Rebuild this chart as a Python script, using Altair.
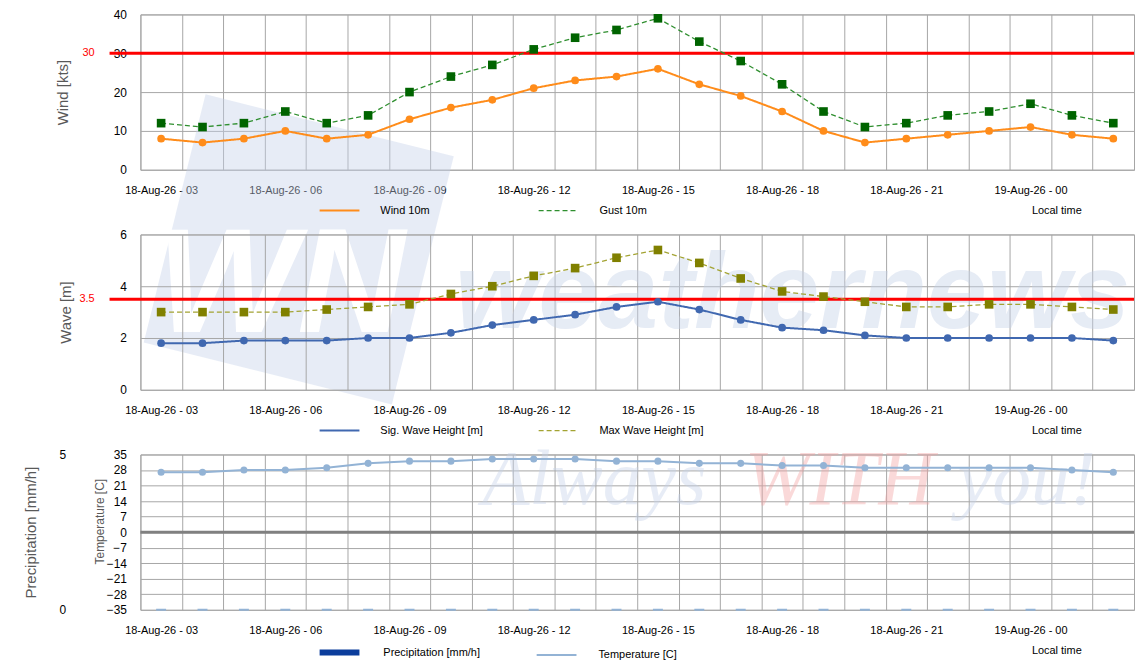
import json
import altair as alt
import pandas as pd

# ---------------- data ----------------
times = [
    "18-Aug-26 - 03", "18-Aug-26 - 04", "18-Aug-26 - 05", "18-Aug-26 - 06",
    "18-Aug-26 - 07", "18-Aug-26 - 08", "18-Aug-26 - 09", "18-Aug-26 - 10",
    "18-Aug-26 - 11", "18-Aug-26 - 12", "18-Aug-26 - 13", "18-Aug-26 - 14",
    "18-Aug-26 - 15", "18-Aug-26 - 16", "18-Aug-26 - 17", "18-Aug-26 - 18",
    "18-Aug-26 - 19", "18-Aug-26 - 20", "18-Aug-26 - 21", "18-Aug-26 - 22",
    "18-Aug-26 - 23", "19-Aug-26 - 00", "19-Aug-26 - 01", "19-Aug-26 - 02",
]
tick_times = [
    "18-Aug-26 - 03", "18-Aug-26 - 06", "18-Aug-26 - 09", "18-Aug-26 - 12",
    "18-Aug-26 - 15", "18-Aug-26 - 18", "18-Aug-26 - 21", "19-Aug-26 - 00",
]

wind_10m = [8, 7, 8, 10, 8, 9, 13, 16, 18, 21, 23, 24, 26, 22, 19, 15, 10, 7, 8, 9, 10, 11, 9, 8]
gust_10m = [12, 11, 12, 15, 12, 14, 20, 24, 27, 31, 34, 36, 39, 33, 28, 22, 15, 11, 12, 14, 15, 17, 14, 12]
sig_wave = [1.8, 1.8, 1.9, 1.9, 1.9, 2.0, 2.0, 2.2, 2.5, 2.7, 2.9, 3.2, 3.4, 3.1, 2.7, 2.4, 2.3, 2.1,
            2.0, 2.0, 2.0, 2.0, 2.0, 1.9]
max_wave = [3.0, 3.0, 3.0, 3.0, 3.1, 3.2, 3.3, 3.7, 4.0, 4.4, 4.7, 5.1, 5.4, 4.9, 4.3, 3.8, 3.6, 3.4,
            3.2, 3.2, 3.3, 3.3, 3.2, 3.1]
temperature = [27, 27, 28, 28, 29, 31, 32, 32, 33, 33, 33, 32, 32, 31, 31, 30, 30, 29, 29, 29, 29, 29, 28, 27]
precipitation = [0, 0, 0, 0, 0, 0, 0, 0, 0, 0, 0, 0, 0, 0, 0, 0, 0, 0, 0, 0, 0, 0, 0, 0]

WIND_LIMIT = 30
WAVE_LIMIT = 3.5

wind_names = ["Wind 10m", "Gust 10m"]
wave_names = ["Sig. Wave Height [m]", "Max Wave Height [m]"]
bottom_names = ["Precipitation [mm/h]", "Temperature [C]"]

wind_ticks = [0, 10, 20, 30, 40]
wave_ticks = [0, 2, 4, 6]
precip_ticks = [0, 5]
temp_ticks = [-35, -28, -21, -14, -7, 0, 7, 14, 21, 28, 35]

# ---------------- style ----------------
W, H = 998, 156
FONT = "Liberation Sans"
GRID = "#a6a6a6"
TITLE_C = "#595959"
ORANGE = "#ff8c1a"
GUST_LINE = "#2f8f2f"
GUST_PT = "#006400"
SIG_BLUE = "#4068b0"
MAXW_LINE = "#a3a332"
MAXW_PT = "#808000"
TEMP_C = "#93b3d5"
PRECIP_C = "#0b3d9c"
LEG_Y = 176


def long_df(names, series):
    rows = []
    for name, vals in zip(names, series):
        for t, v in zip(times, vals):
            rows.append({"time": t, "series": name, "value": v})
    return pd.DataFrame(rows)


label_expr = "indexof(" + json.dumps(tick_times) + ", datum.value) >= 0 ? datum.value : ''"


def x_enc():
    return alt.X(
        "time:N", sort=times,
        scale=alt.Scale(type="band", domain=times, paddingInner=0, paddingOuter=0),
        axis=alt.Axis(
            title="Local time", grid=True, gridColor=GRID, gridWidth=1, tickBand="extent",
            domain=False, ticks=False, labelExpr=label_expr, labelAngle=0, labelOverlap=False,
            labelPadding=15, labelFontSize=11, labelColor="black", labelFont=FONT,
            titleX=945, titleY=41, titleAlign="right", titleBaseline="middle",
            titleFontSize=11, titleFontWeight="normal", titleColor="black", titleFont=FONT,
        ),
    )


def y_axis(title, values, title_x, title_y=H / 2, title_size=15, label_padding=14, grid=True):
    return alt.Axis(
        title=title, values=values, grid=grid, gridColor=GRID, gridWidth=1, domain=False,
        ticks=False, orient="left", labelPadding=label_padding, labelFontSize=12,
        labelColor="black", labelFont=FONT, titleX=title_x, titleY=title_y, titleAngle=270,
        titleAlign="center", titleBaseline="middle", titleFontSize=title_size,
        titleFontWeight="normal", titleColor=TITLE_C, titleFont=FONT,
    )


def legend(x, col_pad, label_offset):
    return alt.Legend(
        title=None, orient="none", legendX=x, legendY=LEG_Y, direction="horizontal",
        symbolType="stroke", symbolSize=1600, labelFontSize=11, labelFont=FONT,
        labelColor="black", labelOffset=label_offset, columnPadding=col_pad, padding=0,
        labelBaseline="middle",
    )


def series_panel(df, names, y, colors, pt_colors, widths, dashes, leg, thr_df, watermark):
    rule = alt.Chart(thr_df).mark_rule(color="red", strokeWidth=3).encode(
        y=y, x=alt.value(-31), x2=alt.value(W))
    lines = alt.Chart(df).mark_line().encode(
        x=x_enc(), y=y,
        color=alt.Color("series:N", scale=alt.Scale(domain=names, range=colors), legend=leg),
        strokeDash=alt.StrokeDash("series:N", scale=alt.Scale(domain=names, range=dashes), legend=leg),
        strokeWidth=alt.StrokeWidth("series:N", scale=alt.Scale(domain=names, range=widths), legend=leg),
    )
    pts1 = alt.Chart(df).transform_filter(alt.datum.series == names[0]).mark_point(
        filled=True, shape="circle", size=60, color=pt_colors[0], opacity=1).encode(x=x_enc(), y=y)
    pts2 = alt.Chart(df).transform_filter(alt.datum.series == names[1]).mark_point(
        filled=True, shape="square", size=75, color=pt_colors[1], opacity=1).encode(x=x_enc(), y=y)
    thr_txt = alt.Chart(thr_df).mark_text(
        color="red", fontSize=11, align="right", baseline="middle", font=FONT).encode(
        y=y, x=alt.value(-46), text="label:N")
    return alt.layer(*watermark, rule, lines, pts1, pts2, thr_txt).properties(width=W, height=H)


# ---------------- top panel: wind ----------------
wind_df = long_df(wind_names, [wind_10m, gust_10m])
y_wind = alt.Y("value:Q", scale=alt.Scale(domain=[0, 40], nice=False),
               axis=y_axis("Wind [kts]", wind_ticks, title_x=-78))
wind_thr = pd.DataFrame({"value": [WIND_LIMIT], "label": [str(WIND_LIMIT)]})

logo = alt.Chart(pd.DataFrame({"m": ["logo"]})).mark_point(
    shape="square", filled=True, size=66000, angle=14, color="#c5d2e9", opacity=0.42,
    strokeWidth=0).encode(x=alt.value(159), y=alt.value(236))
logo_txt = alt.Chart(pd.DataFrame({"t": ["WN"]})).mark_text(
    font=FONT, fontSize=150, fontWeight="bold", fontStyle="italic", color="white",
    align="center", baseline="alphabetic").encode(x=alt.value(141), y=alt.value(319), text="t:N")

top = series_panel(
    wind_df, wind_names, y_wind, [ORANGE, GUST_LINE], [ORANGE, GUST_PT], [2, 1.3],
    [[1, 0], [5, 3]], legend(179, 106, 20), wind_thr, [logo, logo_txt])

# ---------------- middle panel: wave ----------------
wave_df = long_df(wave_names, [sig_wave, max_wave])
y_wave = alt.Y("value:Q", scale=alt.Scale(domain=[0, 6], nice=False),
               axis=y_axis("Wave [m]", wave_ticks, title_x=-75))
wave_thr = pd.DataFrame({"value": [WAVE_LIMIT], "label": [str(WAVE_LIMIT)]})
wn_txt = alt.Chart(pd.DataFrame({"t": ["weathernews"]})).mark_text(
    font=FONT, fontSize=108, fontWeight="bold", fontStyle="italic", color="#c5d2e9",
    opacity=0.42, align="center", baseline="alphabetic").encode(
    x=alt.value(655), y=alt.value(94), text="t:N")

mid = series_panel(
    wave_df, wave_names, y_wave, [SIG_BLUE, MAXW_LINE], [SIG_BLUE, MAXW_PT], [2, 1.3],
    [[1, 0], [5, 3]], legend(179, 53, 20), wave_thr, [wn_txt])

# ---------------- bottom panel: precipitation / temperature ----------------
bot_df = pd.DataFrame({"time": times, "precip": precipitation, "temp": temperature,
                       "series": ["Temperature [C]"] * len(times)})
y_precip = alt.Y("precip:Q", scale=alt.Scale(domain=[0, 5], nice=False),
                 axis=y_axis("Precipitation [mm/h]", precip_ticks, title_x=-110,
                             label_padding=75, grid=False))
y_temp = alt.Y("temp:Q", scale=alt.Scale(domain=[-35, 35], nice=False),
               axis=y_axis("Temperature [C]", temp_ticks, title_x=-41, title_y=67, title_size=12))

slogan = [("Always", 343, "#c5d2e9"), ("WITH", 607, "#f3a3a3"), ("you!", 821, "#c5d2e9")]
slogan_layers = [
    alt.Chart(pd.DataFrame({"t": [word]})).mark_text(
        font="Liberation Serif", fontSize=78, fontStyle="italic", color=col, opacity=0.4,
        align="left", baseline="alphabetic").encode(x=alt.value(xp), y=alt.value(50), text="t:N")
    for word, xp, col in slogan
]

bot_leg = legend(177, 52, 21)
bars = alt.Chart(bot_df).mark_bar(size=10, color=PRECIP_C, stroke=TEMP_C, strokeWidth=2).encode(
    x=x_enc(), y=y_precip)
zero = alt.Chart(pd.DataFrame({"temp": [0]})).mark_rule(color="#808080", strokeWidth=3).encode(y=y_temp)
temp_line = alt.Chart(bot_df).mark_line().encode(
    x=x_enc(), y=y_temp,
    color=alt.Color("series:N", scale=alt.Scale(domain=bottom_names, range=[PRECIP_C, TEMP_C]),
                    legend=bot_leg),
    strokeWidth=alt.StrokeWidth("series:N", scale=alt.Scale(domain=bottom_names, range=[6, 2]),
                                legend=bot_leg),
)
temp_pts = alt.Chart(bot_df).mark_point(filled=True, shape="circle", size=50, color=TEMP_C,
                                        opacity=1).encode(x=x_enc(), y=y_temp)

bot = alt.layer(*slogan_layers, bars, alt.layer(zero, temp_line, temp_pts)).resolve_scale(
    y="independent").properties(width=W, height=H)

chart = alt.vconcat(top, mid, bot, spacing=65, bounds="flush").resolve_scale(
    x="independent", y="independent", color="independent", strokeDash="independent",
    strokeWidth="independent",
).properties(
    padding={"left": 15, "top": -2, "right": 0, "bottom": 0}
).configure(background="white", font=FONT).configure_view(stroke=GRID, strokeWidth=1)

chart.save("out.html", embed_options={"renderer": "svg", "actions": False})
